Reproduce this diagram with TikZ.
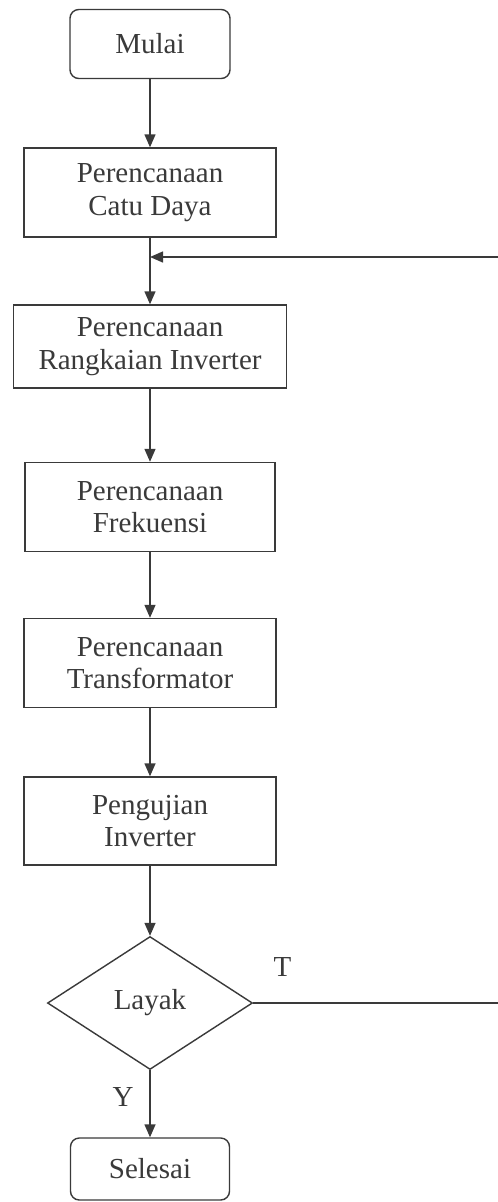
\documentclass[tikz,border=0pt]{standalone}
\usepackage{fontspec}
\setmainfont{Liberation Serif}
\usetikzlibrary{arrows.meta,shapes.geometric}
\definecolor{fcink}{HTML}{3A3A3A}
\definecolor{fcpage}{HTML}{FFFFFF}
\tikzset{
  fcblock/.style={
    draw=fcink,
    line width=0.8pt,
    fill=fcpage,
    align=center,
    inner sep=0pt,
    font=\fontsize{16.5}{18.5}\selectfont,
    text=fcink
  },
  fcprocess/.style={
    fcblock,
    minimum width=5.04cm,
    minimum height=1.78cm
  },
  fcterminal/.style={
    fcblock,
    rounded corners=5pt,
    minimum width=3.2cm,
    minimum height=1.38cm
  },
  fcdecision/.style={
    fcblock,
    diamond,
    aspect=1.54,
    minimum width=4.1cm,
    minimum height=2.66cm
  },
  fcedge/.style={
    -{Triangle[length=2.6mm,width=2.2mm]},
    line width=0.8pt,
    color=fcink
  },
  fcline/.style={
    line width=0.8pt,
    color=fcink
  },
  fclabel/.style={
    font=\fontsize{16.5}{18.5}\selectfont,
    text=fcink
  }
}
\begin{document}
\begin{tikzpicture}[x=1cm,y=1cm]
  \useasboundingbox (0,0) rectangle (9.96,-24.04);

  \node[fcterminal] (mulai) at (3.0,-0.88) {Mulai};

  \node[fcprocess] (catudaya) at (3.0,-3.85) {Perencanaan\\Catu Daya};

  \node[fcprocess, minimum width=5.46cm, minimum height=1.66cm] (inverter) at (3.0,-6.93) {Perencanaan\\Rangkaian Inverter};

  \node[fcprocess, minimum width=5.0cm] (frekuensi) at (3.0,-10.14) {Perencanaan\\Frekuensi};

  \node[fcprocess] (trafo) at (3.0,-13.26) {Perencanaan\\Transformator};

  \node[fcprocess, minimum height=1.76cm] (pengujian) at (3.0,-16.42) {Pengujian\\Inverter};

  \node[fcdecision] (layak) at (3.0,-20.06) {Layak};

  \node[fcterminal, minimum width=3.18cm, minimum height=1.24cm] (selesai) at (3.0,-23.38) {Selesai};

  \coordinate (loopjoin) at (3.0,-5.14);
  \coordinate (loopend) at (9.96,-5.14);
  \coordinate (tidakend) at (9.96,-20.06);

  \draw[fcedge] (mulai.south) -- (catudaya.north);
  \draw[fcedge] (catudaya.south) -- (inverter.north);
  \draw[fcedge] (loopend) -- (loopjoin);
  \draw[fcedge] (inverter.south) -- (frekuensi.north);
  \draw[fcedge] (frekuensi.south) -- (trafo.north);
  \draw[fcedge] (trafo.south) -- (pengujian.north);
  \draw[fcedge] (pengujian.south) -- (layak.north);
  \draw[fcline] (layak.east) -- node[fclabel, pos=0.12, above=4mm] {T} (tidakend);
  \draw[fcedge] (layak.south) -- node[fclabel, left=2mm, pos=0.4] {Y} (selesai.north);
\end{tikzpicture}
\end{document}
